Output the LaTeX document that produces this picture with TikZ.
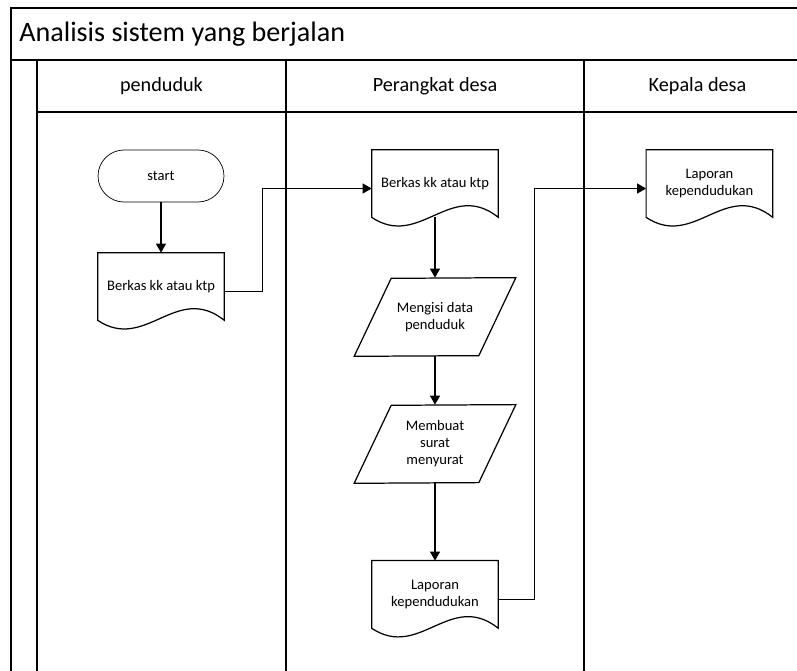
\documentclass[tikz,border=0pt]{standalone}
\usepackage{fontspec}
\setmainfont{Carlito}
\usetikzlibrary{arrows.meta,calc}
\tikzset{
    lane/.style = {draw, line width=1.1pt},
    terminal/.style = {draw, rectangle, rounded corners=0.52cm,
        minimum width=2.52cm, minimum height=1.04cm,
        font=\fontsize{8.3}{9.5}\selectfont},
    docu/.style = {rectangle, minimum width=2.52cm, minimum height=1.34cm,
        inner sep=0pt, align=center, font=\fontsize{8.3}{9.6}\selectfont},
    io/.style = {rectangle, minimum width=3.22cm, minimum height=1.56cm,
        inner sep=0pt, align=center, font=\fontsize{8.3}{9.6}\selectfont},
    head/.style = {font=\fontsize{11.5}{13}\selectfont},
    arrow/.style = {draw, ->, line width=0.7pt}
}
% document box with a wavy bottom edge
\newcommand{\docshape}[1]{%
    \draw[line width=0.7pt] (#1.north west) -- (#1.north east) -- (#1.south east)
        .. controls ($(#1.south east)+(-48,-38)$) and ($(#1.south west)+(48,32)$) .. (#1.south west) -- cycle;
}
% slanted input/output box
\newcommand{\ioshape}[1]{%
    \draw[line width=0.7pt] (#1.south west) -- ++(37,-78) -- (#1.north east) -- ++(-37,78) -- cycle;
}

\begin{document}
\begin{tikzpicture}[x=0.02cm, y=-0.02cm, >={Triangle[length=0.18cm,width=0.2cm]}]
        \useasboundingbox (0,0) rectangle (797,670);
        \clip (0,0) rectangle (797,670);
        % swimlane frame
        \draw [lane] (811,8) -- (11,8) -- (11,690);
        \draw [lane] (11,60) -- (811,60);
        \draw [lane] (37,112) -- (811,112);
        \foreach \x in {37,286,584}{
            \draw [lane] (\x,60) -- (\x,690);
        }
        \node [anchor=west, inner sep=0pt, font=\fontsize{16}{18}\selectfont] (title) at (19,34) {Analisis sistem yang berjalan};
        \node [head] (lane1) at (161.5,86) {penduduk};
        \node [head] (lane2) at (435,86) {Perangkat desa};
        \node [head] (lane3) at (697.5,86) {Kepala desa};

        % penduduk
        \node [terminal] (start) at (161,176) {start};
        \node [docu, below of=start, node distance=2.21cm] (berkas1) {Berkas kk atau ktp};
        \docshape{berkas1}
        \draw [arrow] (start) -- (berkas1);

        % perangkat desa
        \node [docu] (berkas2) at (435,183.5) {Berkas kk atau ktp};
        \docshape{berkas2}
        \node [io, below of=berkas2, node distance=2.67cm] (isi) {Mengisi data\\penduduk};
        \ioshape{isi}
        \node [io, below of=isi, node distance=2.54cm] (surat) {Membuat\\surat\\menyurat};
        \ioshape{surat}
        \node [docu, below of=surat, node distance=3.01cm] (lapor1) {Laporan\\kependudukan};
        \docshape{lapor1}
        \draw [arrow] (berkas2) -- (isi);
        \draw [arrow] (isi) -- (surat);
        \draw [arrow] (surat) -- (lapor1);

        % kepala desa
        \node [docu, right of=berkas2, node distance=5.49cm] (lapor2) {Laporan\\kependudukan};
        \docshape{lapor2}

        \draw [arrow] ([yshift=-0.1cm]berkas1.east) -- ++(38,0) |- ([yshift=-0.1cm]berkas2.west);
        \draw [arrow] ([yshift=-0.1cm]lapor1.east) -- ++(36,0) |- ([yshift=-0.1cm]lapor2.west);
\end{tikzpicture}
\end{document}
